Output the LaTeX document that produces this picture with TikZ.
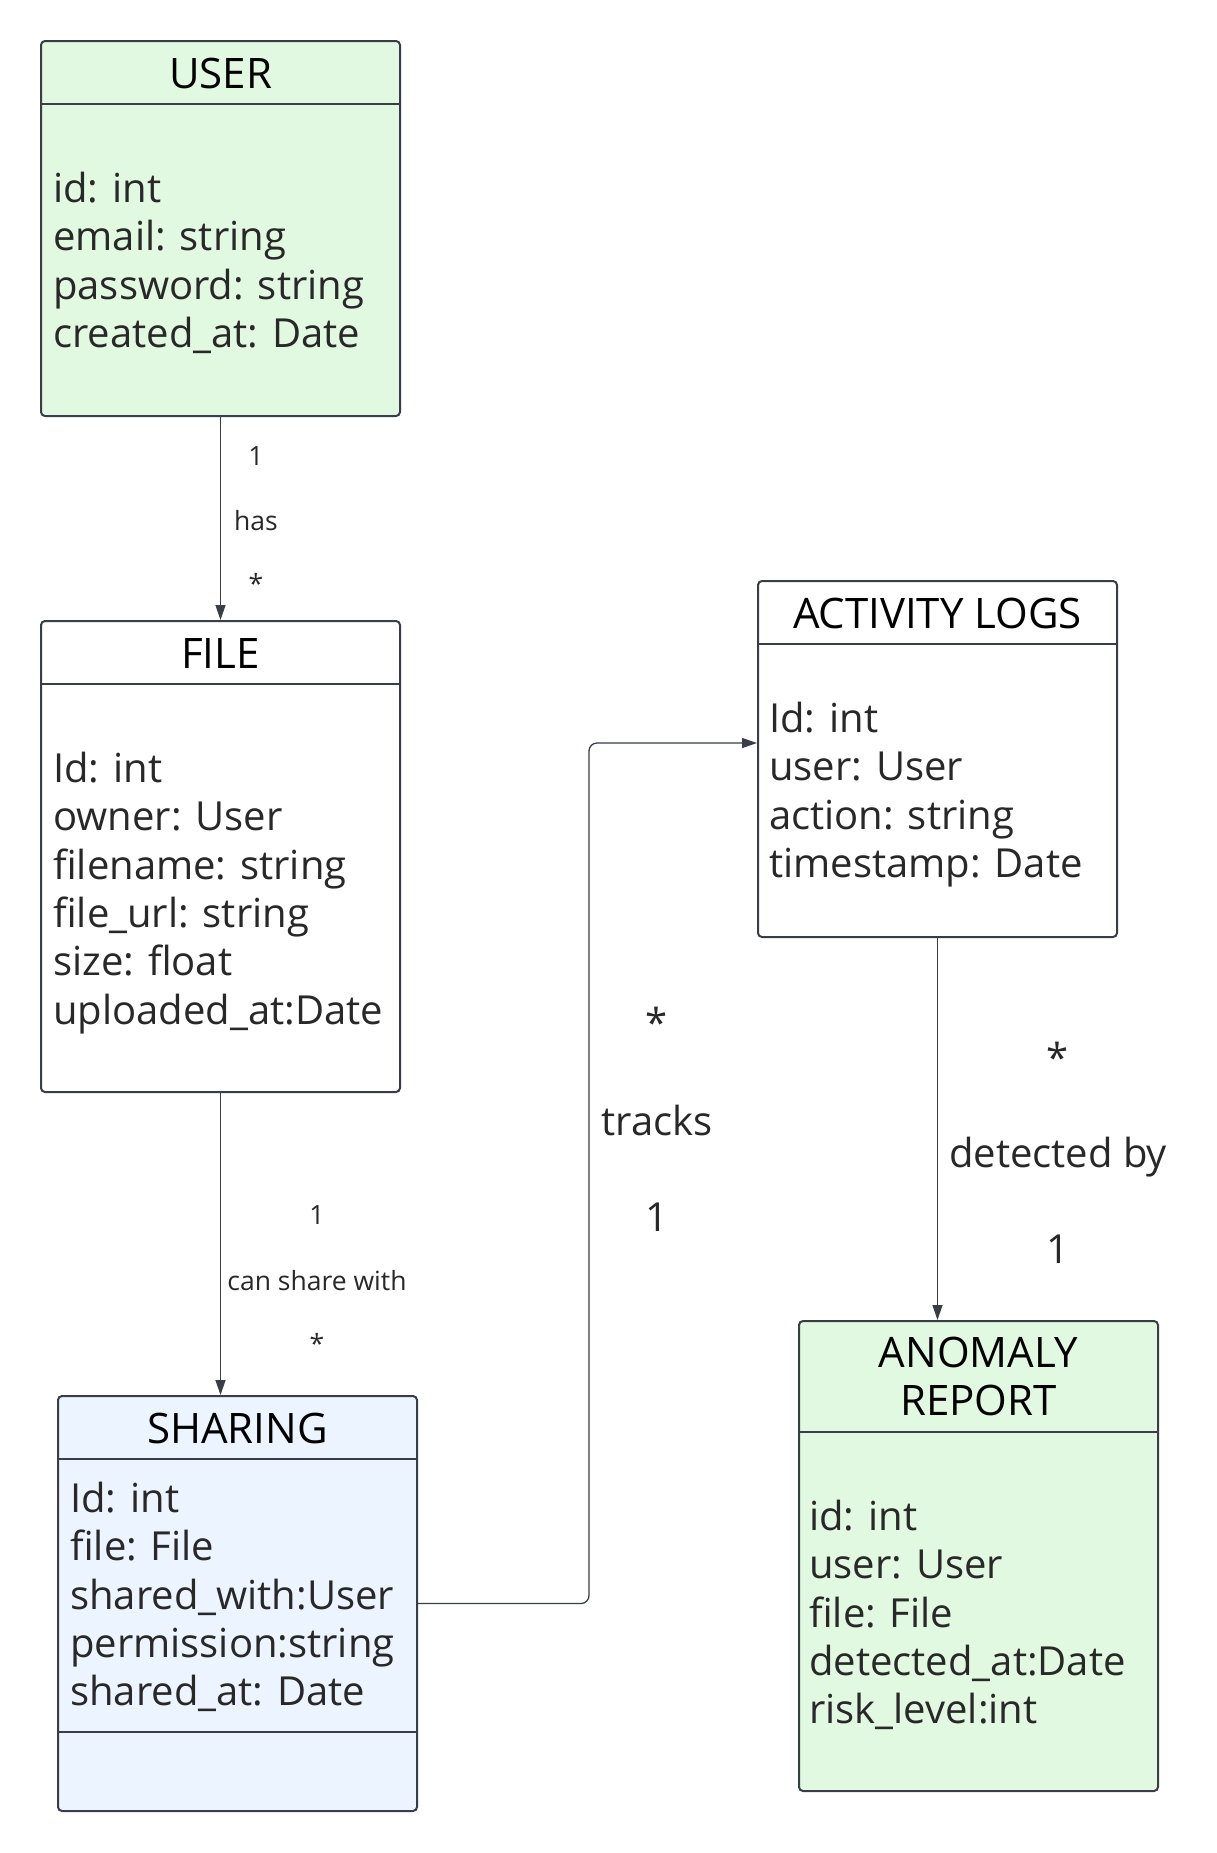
\documentclass[tikz,border=0pt]{standalone}
\usepackage{fontspec}
\newfontfamily\umlfont{Open Sans}
\usetikzlibrary{arrows.meta,positioning,calc}
\definecolor{boxgreen}{RGB}{225,248,225}
\definecolor{boxblue}{RGB}{236,244,255}
\definecolor{edgegray}{RGB}{56,61,70}
\definecolor{inkgray}{RGB}{40,40,40}

\begin{document}
\begin{tikzpicture}[x=1pt, y=-1pt,
    classbox/.style={draw=edgegray, line width=2pt, rounded corners=4pt, anchor=north west, minimum width=359pt, inner sep=0pt},
    sepline/.style={draw=edgegray, line width=2pt},
    classtitle/.style={font=\umlfont\fontsize{42}{48}\selectfont, text=black, align=center, inner sep=0pt},
    classattr/.style={font=\umlfont\fontsize{40}{48}\selectfont, text=inkgray, anchor=west, inner sep=0pt, text height=29pt, text depth=0pt},
    multsmall/.style={font=\umlfont\fontsize{26.5}{32}\selectfont, text=inkgray, inner sep=0pt, text height=19pt, text depth=0pt},
    multbig/.style={font=\umlfont\fontsize{40}{48}\selectfont, text=inkgray, inner sep=0pt, text height=29pt, text depth=0pt},
    rel/.style={draw=edgegray, line width=1.3pt, -{Triangle[length=15pt,width=10pt]}}]
    \useasboundingbox (0,0) rectangle (1217,1853);

    % Classes
    \node[classbox, fill=boxgreen, minimum height=375pt] (user) at (40,40) {};
    \node[classbox, fill=white, minimum height=471pt] (file) at (40,620) {};
    \node[classbox, fill=boxblue, minimum height=415pt] (share) at (57,1395) {};
    \node[classbox, fill=white, minimum height=356pt] (actlog) at (757,580) {};
    \node[classbox, fill=boxgreen, minimum height=470pt] (anomaly) at (798,1320) {};

    % Compartments
    \draw[sepline] ($(user.north west)+(0,64)$) -- ($(user.north east)+(0,64)$);
    \draw[sepline] ($(file.north west)+(0,64)$) -- ($(file.north east)+(0,64)$);
    \draw[sepline] ($(share.north west)+(0,64)$) -- ($(share.north east)+(0,64)$);
    \draw[sepline] ($(share.north west)+(0,337)$) -- ($(share.north east)+(0,337)$);
    \draw[sepline] ($(actlog.north west)+(0,64)$) -- ($(actlog.north east)+(0,64)$);
    \draw[sepline] ($(anomaly.north west)+(0,112)$) -- ($(anomaly.north east)+(0,112)$);

    % Names
    \node[classtitle] (user-t) at ($(user.north)+(0,33)$) {USER};
    \node[classtitle] (file-t) at ($(file.north)+(0,33)$) {FILE};
    \node[classtitle] (share-t) at ($(share.north)+(0,33)$) {SHARING};
    \node[classtitle] (actlog-t) at ($(actlog.north)+(0,33)$) {ACTIVITY LOGS};
    \node[classtitle] (anomaly-t) at ($(anomaly.north)+(0,56)$) {ANOMALY\\REPORT};

    % Attributes
    \foreach \a [count=\i] in {id: int, email: string, password: string, created\_at: Date}
        \node[classattr] (user-a\i) at ($(user.north west)+(13,{148+48.3*(\i-1)})$) {\a};
    \foreach \a [count=\i] in {Id: int, owner: User, filename: string, file\_url: string, size: float, uploaded\_at:Date}
        \node[classattr] (file-a\i) at ($(file.north west)+(13,{148+48.3*(\i-1)})$) {\a};
    \foreach \a [count=\i] in {Id: int, file: File, shared\_with:User, permission:string, shared\_at: Date}
        \node[classattr] (share-a\i) at ($(share.north west)+(13,{103+48.3*(\i-1)})$) {\a};
    \foreach \a [count=\i] in {Id: int, user: User, action: string, timestamp: Date}
        \node[classattr] (actlog-a\i) at ($(actlog.north west)+(12,{138+48.3*(\i-1)})$) {\a};
    \foreach \a [count=\i] in {id: int, user: User, file: File, detected\_at:Date, risk\_level:int}
        \node[classattr] (anomaly-a\i) at ($(anomaly.north west)+(11,{196+48.3*(\i-1)})$) {\a};

    % Relations
    \draw[rel] (user.south) -- (file.north);
    \draw[rel] (file.south) -- (file.south |- share.north);
    \draw[rel, rounded corners=8pt] (share.east) -- ++(171,0) |- ($(actlog.west)+(0,-16)$);
    \draw[rel] (actlog.south) -- (actlog.south |- anomaly.north);

    \node[multsmall] (has-a) at (256,456) {1};
    \node[multsmall] (has-l) at (256,521) {has};
    \node[multsmall, yshift=-3pt] (has-b) at (256,581) {*};
    \node[multsmall] (shw-a) at (317,1215) {1};
    \node[multsmall] (shw-l) at (317,1281) {can share with};
    \node[multsmall, yshift=-3pt] (shw-b) at (317,1341) {*};
    \node[multbig, yshift=-5pt] (trk-a) at (657,1018) {*};
    \node[multbig] (trk-l) at (657,1121) {tracks};
    \node[multbig] (trk-b) at (657,1217) {1};
    \node[multbig, yshift=-6pt] (det-a) at (1058,1052) {*};
    \node[multbig] (det-l) at (1058,1153) {detected by};
    \node[multbig] (det-b) at (1058,1249) {1};
\end{tikzpicture}
\end{document}
